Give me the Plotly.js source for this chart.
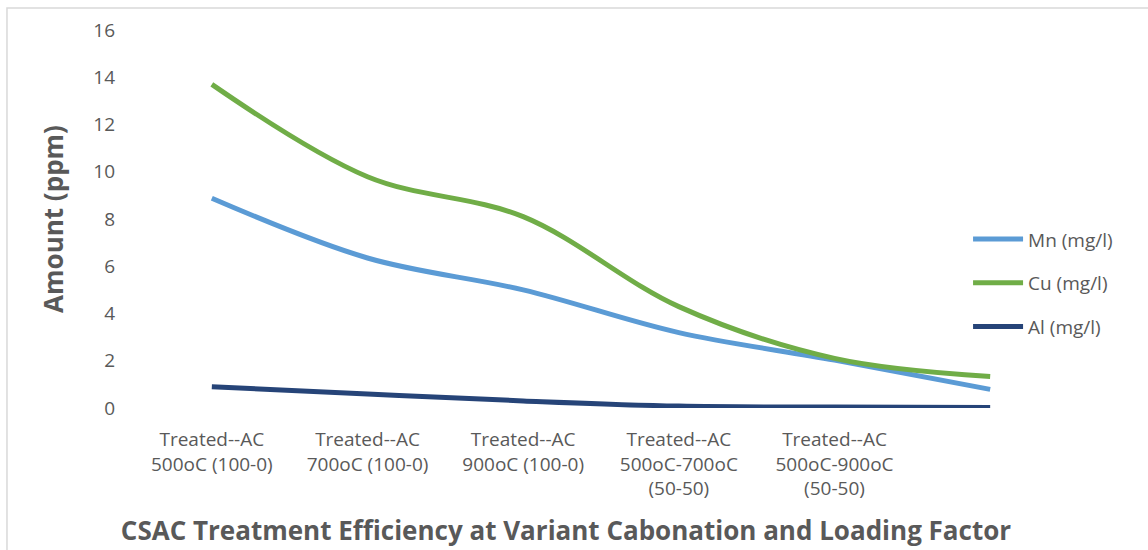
<!DOCTYPE html>
<html>
<head>
<meta charset="utf-8">
<script src="https://cdn.plot.ly/plotly-3.0.1.min.js"></script>
<style>html,body{margin:0;padding:0;background:#fff;}#chart{width:1148px;height:550px;}</style>
</head>
<body>
<div id="chart"></div>
<script>
const categories = [
  "Treated--AC<br>500oC (100-0)",
  "Treated--AC<br>700oC (100-0)",
  "Treated--AC<br>900oC (100-0)",
  "Treated--AC<br>500oC-700oC<br>(50-50)",
  "Treated--AC<br>500oC-900oC<br>(50-50)",
  ""
];
const mnValues = [8.88, 6.35, 5.0, 3.19, 2.03, 0.79];
const cuValues = [13.7, 9.79, 8.1, 4.29, 2.1, 1.33];
const alValues = [0.9, 0.59, 0.3, 0.08, 0.04, 0.02];
const yTicks = [0, 2, 4, 6, 8, 10, 12, 14, 16];

const idx = categories.map((c, i) => i);
const gray = '#595959';
const font = 'Open Sans, Noto Sans, sans-serif';

function series(name, values, color, group) {
  return {
    type: 'scatter', mode: 'lines', name: name, x: idx, y: values,
    legendgroup: group,
    line: {color: color, width: 5, shape: 'spline', smoothing: 1}
  };
}

const data = [
  series('Mn (mg/l)', mnValues, '#5b9bd5', 'a'),
  series('Cu (mg/l)', cuValues, '#70ad47', 'b'),
  series('Al (mg/l)', alValues, '#264478', 'c')
];

const layout = {
  width: 1148, height: 550,
  margin: {l: 134, r: 80, t: 30, b: 142},
  paper_bgcolor: '#fff', plot_bgcolor: '#fff',
  font: {family: font, color: gray, size: 19},
  title: {
    text: '<b>CSAC Treatment Efficiency at Variant Cabonation and Loading Factor</b>',
    xref: 'container', yref: 'container', x: 0.493, y: 0.035,
    xanchor: 'center', yanchor: 'middle',
    font: {family: font, size: 26, color: gray}
  },
  xaxis: {
    type: 'linear', range: [-0.5, 5.5],
    tickmode: 'array', tickvals: idx, ticktext: categories,
    showgrid: false, zeroline: false, showline: false,
    ticks: '', ticklabelstandoff: 18,
    tickfont: {family: font, size: 19, color: gray},
    fixedrange: true
  },
  yaxis: {
    range: [0, 16], tickmode: 'array', tickvals: yTicks,
    showgrid: false, zeroline: false, showline: false,
    ticks: '', ticklabelstandoff: 18,
    tickfont: {family: font, size: 19, color: gray},
    title: {text: '<b>Amount (ppm)</b>', standoff: 22, font: {family: font, size: 26, color: gray}}
  },
  legend: {
    x: 0.893, y: 0.33, xanchor: 'left', yanchor: 'middle',
    bgcolor: 'rgba(0,0,0,0)', tracegroupgap: 16,
    font: {family: font, size: 19, color: gray},
    itemwidth: 50
  },
  shapes: [{
    type: 'rect', xref: 'paper', yref: 'paper',
    x0: -0.136, x1: 1.3, y0: -0.6, y1: 1.058,
    line: {color: '#d9d9d9', width: 1.5}, fillcolor: 'rgba(0,0,0,0)', layer: 'below'
  }],
  showlegend: true
};

Plotly.newPlot('chart', data, layout, {displayModeBar: false, staticPlot: true});
</script>
</body>
</html>
